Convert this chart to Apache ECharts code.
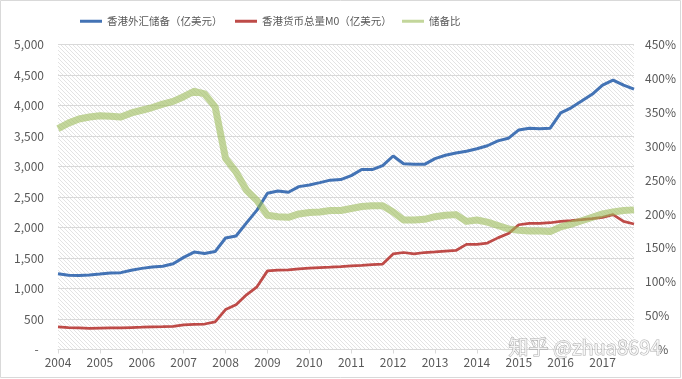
<!DOCTYPE html>
<html>
<head>
<meta charset="utf-8">
<script src="https://cdn.jsdelivr.net/npm/echarts@6/dist/echarts.min.js"></script>
<style>
html,body{margin:0;padding:0;background:#fff;}
#c{width:682px;height:379px;}
</style>
</head>
<body>
<div id="c"></div>
<script>
// ---- data (quarterly, 2004Q1 .. 2017Q4) ----
const years = [2004,2005,2006,2007,2008,2009,2010,2011,2012,2013,2014,2015,2016,2017];
const quarters = ['Q1','Q2','Q3','Q4'];
const categories = [];
years.forEach(y => quarters.forEach(q => categories.push(y + q)));

const reserveNames = ['香港外汇储备（亿美元）','香港货币总量M0（亿美元）','储备比'];

const fxReserves = [
  1242,1218,1215,1222, 1238,1255,1260,1300, 1330,1352,1366,1405,
  1510,1597,1575,1605, 1828,1861,2076,2285, 2561,2599,2578,2670,
  2698,2736,2776,2785, 2850,2950,2950,3015, 3172,3044,3036,3035,
  3130,3185,3220,3250, 3290,3340,3420,3462, 3600,3628,3617,3628,
  3878,3962,4072,4183, 4333,4417,4333,4267
];
const m0 = [
  370,360,355,345, 352,355,355,360, 365,372,375,380,
  405,412,418,452, 655,734,897,1028, 1289,1301,1306,1322,
  1333,1343,1350,1360, 1372,1378,1390,1400, 1567,1590,1567,1590,
  1600,1612,1623,1723, 1723,1745,1830,1900, 2045,2067,2067,2078,
  2100,2112,2128,2145, 2167,2212,2100,2057
];
const ratio = [
  326,334,340,343, 345,344,343,349, 353,357,362,366,
  373,381,377,358, 282,262,235,220, 198,196,195,200,
  202,203,205,205, 208,211,212,212, 203,191,191,192,
  196,198,199,189, 191,188,183,178, 176,175,175,174,
  181,185,190,195, 200,203,205,206
];
const leftTicks = {min:0, max:5000, interval:500};
const rightTicks = {min:0, max:450, interval:50};

// ---- hatch pattern for the plot area ----
const P = 4;
const pc = document.createElement('canvas');
pc.width = P; pc.height = P;
const g = pc.getContext('2d');
g.fillStyle = '#ffffff'; g.fillRect(0,0,P,P);
g.strokeStyle = '#e3e3e3'; g.lineWidth = 1;
g.beginPath();
for (let k = -P; k <= P; k += P) { g.moveTo(k, 0); g.lineTo(k + P, P); }
g.stroke();

const txt = '#595959';
const fontF = '"Noto Sans CJK SC","Liberation Sans",sans-serif';
const colors = ['#4373B5', '#BE4B48', 'rgba(155,187,89,0.6)'];

const chart = echarts.init(document.getElementById('c'), null, {renderer:'canvas'});
const legendBase = {
  top: 11, icon: 'rect', itemWidth: 22, itemHeight: 3,
  textStyle: {color: txt, fontSize: 10.5, fontFamily: fontF}
};
chart.setOption({
  animation: false,
  backgroundColor: '#fff',
  legend: [
    Object.assign({left: 75, data: [reserveNames[0]]}, legendBase),
    Object.assign({left: 230, data: [reserveNames[1]]}, legendBase),
    Object.assign({left: 397, data: [reserveNames[2]]}, legendBase)
  ],
  grid: {
    left: 58, right: 48, top: 44.5, bottom: 29.5,
    show: true, borderWidth: 0,
    backgroundColor: {image: pc, repeat: 'repeat'}
  },
  xAxis: {
    type: 'category', data: categories, boundaryGap: false,
    axisLine: {lineStyle: {color: '#D9D9D9', width: 1}},
    axisTick: {show: true, interval: 3, length: 4, lineStyle: {color: '#D9D9D9'}},
    axisLabel: {interval: 3, color: txt, fontSize: 12, fontFamily: fontF, margin: 7,
      formatter: v => v.slice(0, 4)},
    splitLine: {show: false}
  },
  yAxis: [
    {
      type: 'value', min: leftTicks.min, max: leftTicks.max, interval: leftTicks.interval,
      axisLine: {show: false}, axisTick: {show: false},
      axisLabel: {color: txt, fontSize: 12, fontFamily: fontF, margin: 14,
        formatter: v => v === 0 ? '-  ' : v.toLocaleString('en-US')},
      splitLine: {lineStyle: {color: '#D9D9D9', width: 1}}
    },
    {
      type: 'value', min: rightTicks.min, max: rightTicks.max, interval: rightTicks.interval,
      axisLine: {show: false}, axisTick: {show: false},
      axisLabel: {color: txt, fontSize: 12, fontFamily: fontF, margin: 11,
        formatter: v => v === 0 ? '   -%' : v + '%'},
      splitLine: {show: false}
    }
  ],
  series: [
    {name: reserveNames[0], type: 'line', yAxisIndex: 0, data: fxReserves,
      symbol: 'none', itemStyle: {color: colors[0]},
      lineStyle: {color: colors[0], width: 3}},
    {name: reserveNames[1], type: 'line', yAxisIndex: 0, data: m0,
      symbol: 'none', itemStyle: {color: colors[1]},
      lineStyle: {color: colors[1], width: 2.75}},
    {name: reserveNames[2], type: 'line', yAxisIndex: 1, data: ratio,
      symbol: 'none', itemStyle: {color: colors[2]},
      lineStyle: {color: colors[2], width: 7, join: 'round'}}
  ],
  graphic: [
    {type: 'rect', shape: {x: 0.5, y: 0.5, width: 680, height: 377},
      style: {fill: 'none', stroke: '#D9D9D9', lineWidth: 1}, silent: true},
    {type: 'text', left: 508, top: 337, silent: true, z: 100,
      style: {text: '知乎 @zhua8694', fontSize: 20, fontFamily: fontF,
        fill: 'rgba(255,255,255,0.75)', stroke: 'rgba(110,110,110,0.55)', lineWidth: 1}}
  ]
});
</script>
</body>
</html>
